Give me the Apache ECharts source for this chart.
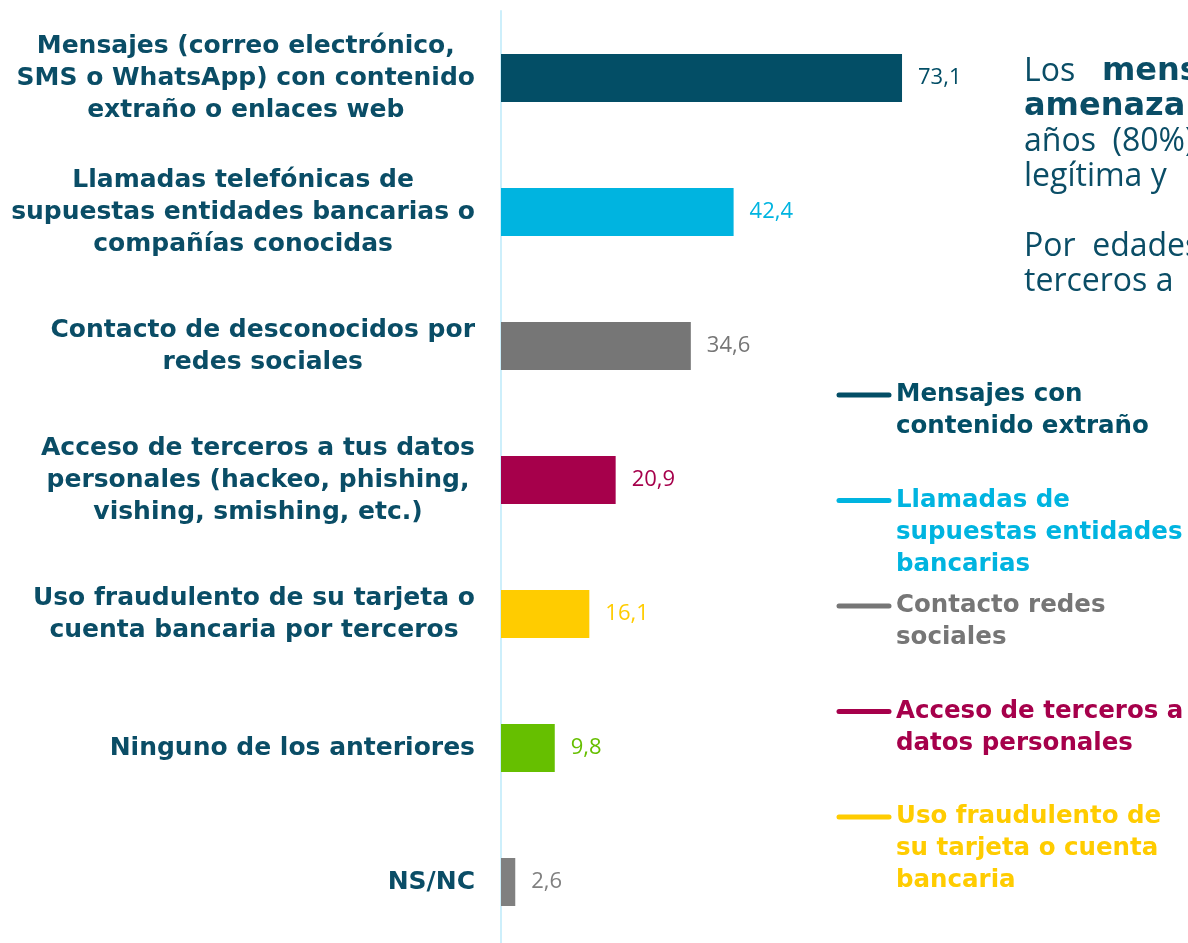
<!DOCTYPE html>
<html>
<head>
<meta charset="utf-8">
<script src="https://cdn.jsdelivr.net/npm/echarts@6/dist/echarts.min.js"></script>
<style>
  html, body { margin: 0; padding: 0; background: #fff; overflow: hidden; }
  #chart { width: 1188px; height: 950px; }
</style>
</head>
<body>
<div id="chart"></div>
<script>
    var categories = [
        'Mensajes (correo electrónico,\nSMS o WhatsApp) con contenido\nextraño o enlaces web',
        'Llamadas telefónicas de\nsupuestas entidades bancarias o\ncompañías conocidas',
        'Contacto de desconocidos por\nredes sociales',
        'Acceso de terceros a tus datos\npersonales (hackeo, phishing,\nvishing, smishing, etc.)',
        'Uso fraudulento de su tarjeta o\ncuenta bancaria por terceros',
        'Ninguno de los anteriores',
        'NS/NC'
    ];
    var values = [73.1, 42.4, 34.6, 20.9, 16.1, 9.8, 2.6];
    var barColors = ['#034E66', '#00B4E0', '#767676', '#A6004B', '#FFCC00', '#66BF00', '#808080'];

    var legendNames = [
        'Mensajes con\ncontenido extraño',
        'Llamadas de\nsupuestas entidades\nbancarias',
        'Contacto redes\nsociales',
        'Acceso de terceros a\ndatos personales',
        'Uso fraudulento de\nsu tarjeta o cuenta\nbancaria'
    ];
    var legendColors = ['#034E66', '#00B4E0', '#767676', '#A6004B', '#FFCC00'];

    var textColor = '#0A4D66';
    var boldFont = '"DejaVu Sans", sans-serif';
    var lightFont = '"Open Sans", "Noto Sans", sans-serif';

    function $each(arr, fn) {
        for (var i = 0; i < arr.length; i++) fn(i, arr[i]);
    }

    var seriesData = [];
    $each(values, function (i, v) {
        seriesData.push({
            value: v,
            itemStyle: {color: barColors[i]},
            label: {color: barColors[i]}
        });
    });

    // legend built by hand, one line + text per entry
    var graphics = [];
    $each(legendNames, function (i, n) {
        var y = 395 + i * 105.5;
        graphics.push({
            type: 'line',
            shape: {x1: 839, y1: y, x2: 889, y2: y},
            style: {stroke: legendColors[i], lineWidth: 5, lineCap: 'round'}
        });
        graphics.push({
            type: 'text',
            x: 896,
            y: y - 16,
            style: {
                text: n,
                fill: legendColors[i],
                font: 'bold 24.5px ' + boldFont,
                lineHeight: 32,
                verticalAlign: 'top'
            }
        });
    });

    // side note (cut by the right edge in the original)
    graphics.push({
        type: 'text',
        x: 1024,
        y: 72 - 17.5,
        style: {
            text: '{n|Los}        {b|mensajes}\n{b|amenaza} {n|más}\n{n|años  (80%)}\n{n|legítima y}',
            verticalAlign: 'top',
            rich: {
                n: {fontSize: 32, fontFamily: lightFont, fontWeight: 'normal', fill: textColor, lineHeight: 35},
                b: {fontSize: 32, fontFamily: boldFont, fontWeight: 'bold', fill: textColor, lineHeight: 35}
            }
        }
    });
    graphics.push({
        type: 'text',
        x: 1024,
        y: 247 - 17.5,
        style: {
            text: 'Por  edades\nterceros a',
            fill: textColor,
            font: '32px ' + lightFont,
            lineHeight: 35,
            verticalAlign: 'top'
        }
    });

    var option = {
        animation: false,
        grid: {left: 501, top: 11, width: 548.6, height: 938, containLabel: false},
        xAxis: {
            type: 'value',
            min: 0,
            max: 100,
            show: false
        },
        yAxis: {
            type: 'category',
            inverse: true,
            data: categories,
            axisLine: {show: true, lineStyle: {color: '#CDEFFB', width: 2}},
            axisTick: {show: false},
            axisLabel: {
                margin: 26,
                align: 'right',
                formatter: function (v) {
                    return v.split('\n').map(function (s) { return '{c|' + s + '}'; }).join('\n');
                },
                rich: {
                    c: {
                        align: 'center',
                        color: textColor,
                        fontFamily: boldFont,
                        fontWeight: 'bold',
                        fontSize: 25,
                        lineHeight: 32
                    }
                }
            }
        },
        series: [{
            type: 'bar',
            data: seriesData,
            barWidth: 48,
            label: {
                show: true,
                position: 'right',
                distance: 16,
                fontFamily: lightFont,
                fontSize: 22,
                formatter: function (p) {
                    return String(p.value).replace('.', ',');
                }
            }
        }],
        graphic: graphics
    };

    var chart = echarts.init(document.getElementById('chart'));
    chart.setOption(option);
</script>
</body>
</html>
